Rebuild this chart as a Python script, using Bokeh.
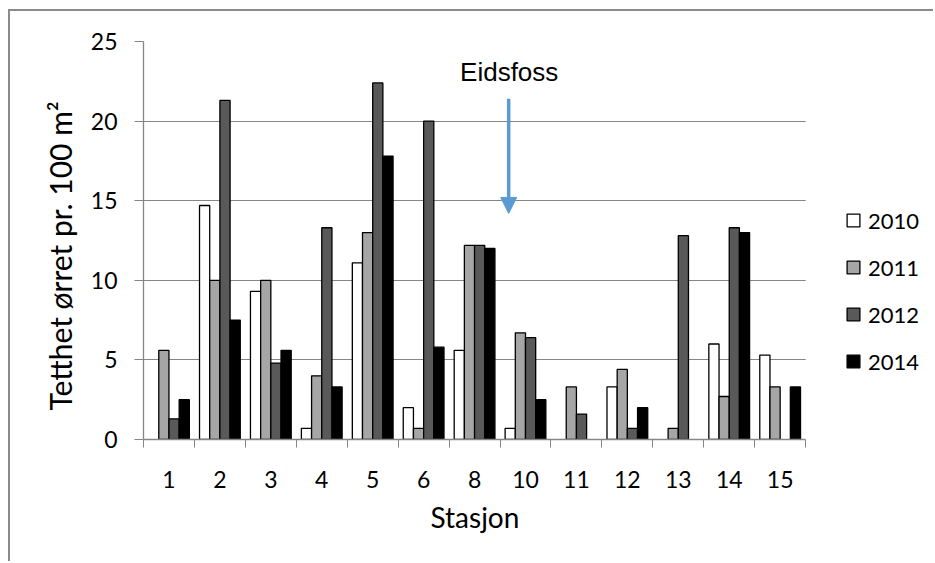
from bokeh.plotting import figure
from bokeh.models import (ColumnDataSource, Range1d, LinearAxis, FixedTicker, Legend,
                          LegendItem, Arrow, NormalHead, Label, BoxAnnotation, Title)
from bokeh.transform import dodge
from bokeh.embed import file_html
from bokeh.resources import INLINE

# Trout density per station and survey year (None = no bar)
stations = ["1", "2", "3", "4", "5", "6", "8", "10", "11", "12", "13", "14", "15"]
years = ["2010", "2011", "2012", "2014"]
d2010 = [None, 14.7, 9.3, 0.7, 11.1, 2.0, 5.6, 0.7, None, 3.3, None, 6.0, 5.3]
d2011 = [5.6, 10.0, 10.0, 4.0, 13.0, 0.7, 12.2, 6.7, 3.3, 4.4, 0.7, 2.7, 3.3]
d2012 = [1.3, 21.3, 4.8, 13.3, 22.4, 20.0, 12.2, 6.4, 1.6, 0.7, 12.8, 13.3, None]
d2014 = [2.5, 7.5, 5.6, 3.3, 17.8, 5.8, 12.0, 2.5, None, 2.0, None, 13.0, 3.3]
y_ticks = [0, 5, 10, 15, 20, 25]

series = [d2010, d2011, d2012, d2014]
fills = ["#FFFFFF", "#A6A6A6", "#595959", "#000000"]
offsets = [-0.3, -0.1, 0.1, 0.3]

# each station occupies one unit slot on the x scale; the space to the
# right of the last slot holds the legend
n = len(stations)
centers = [i + 0.5 for i in range(n)]
edges = list(range(n + 1))
x_end = n + 2.55

TICK_FONT = "Lato"
GRID = "#868686"

p = figure(width=925, height=552, x_range=Range1d(0, x_end), y_range=Range1d(0, 25),
           output_backend="svg", toolbar_location=None, x_axis_location=None,
           min_border_left=133, min_border_right=0, min_border_top=30, min_border_bottom=124,
           styles={"margin-left": "8px", "margin-top": "9px",
                   "border-left": "2px solid #8a8a8a", "border-top": "2px solid #8a8a8a"})
p.outline_line_color = None
p.background_fill_color = "white"
p.border_fill_color = "white"

# y axis and grid
yax = p.yaxis[0]
yax.ticker = FixedTicker(ticks=y_ticks)
yax.minor_tick_line_color = None
yax.major_tick_in = 0
yax.major_tick_out = 9
yax.major_tick_line_color = GRID
yax.axis_line_color = GRID
yax.axis_line_width = 1.3
yax.major_label_text_font = TICK_FONT
yax.major_label_text_font_size = "23px"
yax.major_label_text_color = "#000000"
yax.major_label_standoff = 17
yax.axis_label = "Tetthet ørret pr. 100 m²\u00a0\u00a0\u00a0\u00a0"
yax.axis_label_text_font = TICK_FONT
yax.axis_label_text_font_size = "30px"
yax.axis_label_text_font_style = "normal"
yax.axis_label_text_color = "#000000"
yax.axis_label_standoff = 10
p.xgrid.grid_line_color = None
p.ygrid.ticker = FixedTicker(ticks=y_ticks)
p.ygrid.grid_line_color = GRID
p.ygrid.grid_line_width = 1.2

# slot boundary tick marks on the x axis
edge_axis = LinearAxis(ticker=FixedTicker(ticks=edges), bounds=(0, n),
                       major_label_overrides={e: "" for e in edges},
                       major_label_text_font_size="1px", major_label_standoff=0,
                       minor_tick_line_color=None, major_tick_in=0, major_tick_out=8,
                       major_tick_line_color=GRID, axis_line_color=GRID, axis_line_width=1.3)
p.add_layout(edge_axis, "below")

# station labels centred in each slot
label_axis = LinearAxis(ticker=FixedTicker(ticks=centers), bounds=(0, n),
                        major_label_overrides={c: s for c, s in zip(centers, stations)},
                        axis_line_color=None, major_tick_line_color=None, minor_tick_line_color=None,
                        major_label_text_font=TICK_FONT, major_label_text_font_size="23px",
                        major_label_text_color="#000000", major_label_standoff=17)
p.add_layout(label_axis, "below")

# x axis title, centred under the station slots
p.add_layout(Title(text="Stasjon", align="left", offset=287, vertical_align="top", standoff=18,
                   text_font=TICK_FONT, text_font_size="28px", text_font_style="normal",
                   text_color="#000000"), "below")

# grouped bars
items = []
for year, vals, fill, off in zip(years, series, fills, offsets):
    xs = [c for c, v in zip(centers, vals) if v is not None]
    ys = [v for v in vals if v is not None]
    src = ColumnDataSource(data=dict(pos=xs, value=ys))
    r = p.vbar(x=dodge("pos", off), top="value", width=0.2, bottom=0,
               source=src, fill_color=fill, line_color="#000000", line_width=1.3)
    items.append(LegendItem(label=year, renderers=[r]))

# blank legend area: gridlines stop at the last slot
p.add_layout(BoxAnnotation(left=n, fill_color="white", fill_alpha=1, line_color=None))

legend = Legend(items=items, location=(702, 63), padding=0, margin=0, spacing=17,
                glyph_width=16, glyph_height=16, label_height=30, label_standoff=7,
                label_text_font=TICK_FONT, label_text_font_size="22px",
                label_text_color="#000000", border_line_color=None,
                background_fill_alpha=0)
p.add_layout(legend, "center")

# Eidsfoss marker
BLUE = "#5B9BD5"
p.add_layout(Arrow(x_start=7.17, y_start=21.4, x_end=7.17, y_end=14.2,
                   line_color=BLUE, line_width=3.5,
                   end=NormalHead(size=16, fill_color=BLUE, line_color=BLUE, line_width=1)))
p.add_layout(Label(x=7.18, y=23.1, text="Eidsfoss",
                   text_font="Liberation Sans", text_font_size="26px", text_color="#000000",
                   text_align="center", text_baseline="alphabetic"))

open("out.html", "w").write(file_html(p, INLINE))
